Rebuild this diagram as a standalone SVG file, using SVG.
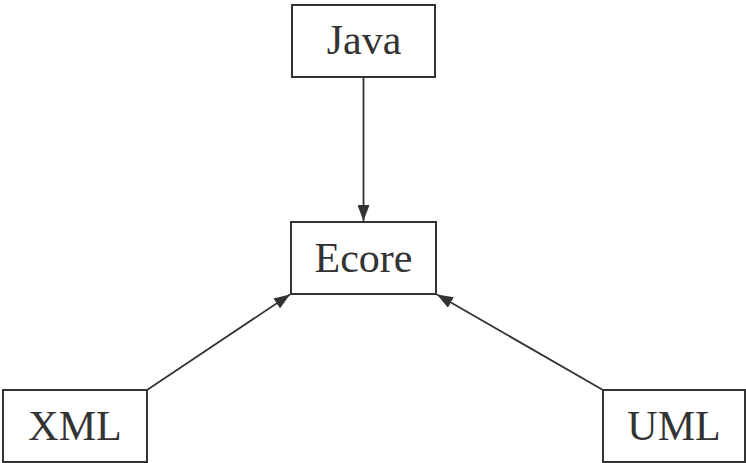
<svg xmlns="http://www.w3.org/2000/svg" width="746" height="463" viewBox="0 0 746 463">
<style>
.box{fill:#fff;stroke:#333;stroke-width:2}
.lbl{font-family:"Liberation Serif","Times New Roman",serif;font-size:42px;fill:#333;text-anchor:middle}
.edge{stroke:#333;stroke-width:1.8;fill:none;marker-end:url(#ah)}
</style>
<defs>
<marker id="ah" viewBox="0 0 16 12" refX="16" refY="6" markerWidth="16" markerHeight="12" markerUnits="userSpaceOnUse" orient="auto">
<path d="M0,0 L16,6 L0,12 z" fill="#333"/>
</marker>
</defs>
<rect width="746" height="463" fill="#fff"/>
<g id="edges">
<line class="edge" x1="363.5" y1="77" x2="363.5" y2="221"/>
<line class="edge" x1="147" y1="390" x2="290" y2="294.5"/>
<line class="edge" x1="603" y1="390" x2="437" y2="294.5"/>
</g>
<g id="java"><rect class="box" x="292" y="5" width="143" height="72"/><text class="lbl" x="364" y="54">Java</text></g>
<g id="ecore"><rect class="box" x="291" y="222" width="145" height="72"/><text class="lbl" x="363.5" y="272">Ecore</text></g>
<g id="xml"><rect class="box" x="3" y="390" width="144" height="72"/><text class="lbl" x="75" y="440">XML</text></g>
<g id="uml"><rect class="box" x="603" y="390" width="142" height="72"/><text class="lbl" x="674" y="440">UML</text></g>
</svg>
